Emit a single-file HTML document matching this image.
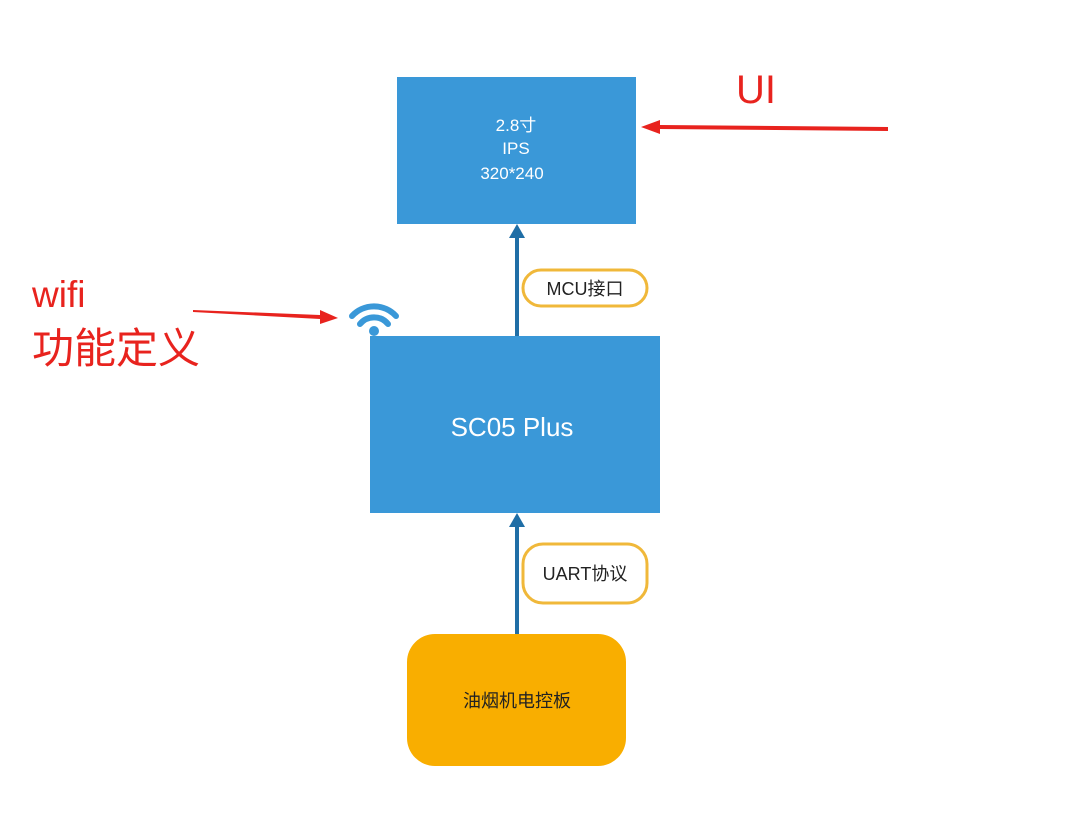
<!DOCTYPE html>
<html><head><meta charset="utf-8"><style>
body{margin:0;background:#fff;width:1080px;height:819px;overflow:hidden}
svg text{font-family:"Liberation Sans","Noto Sans CJK SC",sans-serif}
</style></head><body>
<svg width="1080" height="819" viewBox="0 0 1080 819">
<rect x="397" y="77" width="239" height="147" fill="#3a98d8"/>
<text x="516" y="131" fill="#fff" font-size="17" text-anchor="middle">2.8寸</text>
<text x="516" y="154" fill="#fff" font-size="17" text-anchor="middle">IPS</text>
<text x="512" y="179" fill="#fff" font-size="17" text-anchor="middle">320*240</text>
<rect x="370" y="336" width="290" height="177" fill="#3a98d8"/>
<text x="512" y="436" fill="#fff" font-size="26" text-anchor="middle">SC05 Plus</text>
<rect x="407" y="634" width="219" height="132" rx="28" fill="#f9ae00"/>
<text x="517" y="707" fill="#222" font-size="18" text-anchor="middle">油烟机电控板</text>
<line x1="517" y1="336" x2="517" y2="234" stroke="#1f6ea6" stroke-width="4"/>
<path d="M517,224 L509,238 L525,238z" fill="#1f6ea6"/>
<line x1="517" y1="634" x2="517" y2="523" stroke="#1f6ea6" stroke-width="4"/>
<path d="M517,513 L509,527 L525,527z" fill="#1f6ea6"/>
<rect x="523" y="270" width="124" height="36" rx="18" fill="#fff" stroke="#f0b83a" stroke-width="3"/>
<text x="585" y="295" fill="#222" font-size="18" text-anchor="middle">MCU接口</text>
<rect x="523" y="544" width="124" height="59" rx="20" fill="#fff" stroke="#f0b83a" stroke-width="3"/>
<text x="585" y="580" fill="#222" font-size="18" text-anchor="middle">UART协议</text>
<g fill="none" stroke="#3a98d8" stroke-width="6" stroke-linecap="round">
<path d="M352,316 A30,30 0 0 1 396,316"/>
<path d="M360,324 A18,18 0 0 1 388,324"/>
</g>
<circle cx="374" cy="331" r="5" fill="#3a98d8"/>
<path d="M888,127 L660,125 L660,120 L641,127 L660,134 L660,129 L888,131z" fill="#e8231e"/>
<path d="M193,310 L320,315 L320,310 L338,318 L320,324 L320,319 L193,312z" fill="#e8231e"/>
<text x="736" y="103" fill="#e8231e" font-size="40">UI</text>
<text x="32" y="307" fill="#e8231e" font-size="37">wifi</text>
<text x="32" y="363" fill="#e8231e" font-size="42">功能定义</text>
</svg>
</body></html>
